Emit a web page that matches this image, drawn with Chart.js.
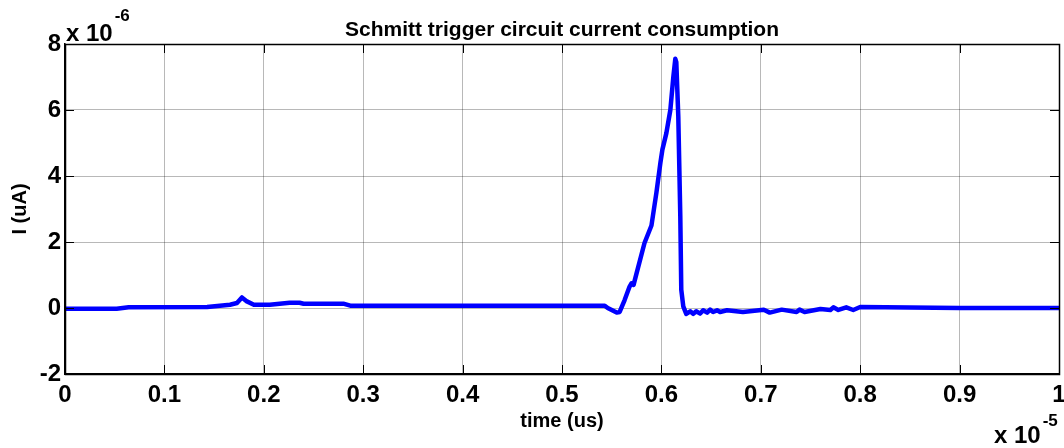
<!DOCTYPE html>
<html>
<head>
<meta charset="utf-8">
<script src="https://cdn.jsdelivr.net/npm/chart.js@4/dist/chart.umd.min.js"></script>
<style>
  html, body { margin: 0; padding: 0; background: #fff; }
  #wrap { width: 1064px; height: 448px; }
</style>
</head>
<body>
<div id="wrap"><canvas id="currentChart" width="1064" height="448"></canvas></div>
<script>
// time in units of 1e-5 (as on the axis), current in units of 1e-6
const timeVals = [0, 0.052, 0.064, 0.143, 0.166, 0.173, 0.178, 0.183, 0.19, 0.206, 0.216, 0.226, 0.236, 0.24, 0.28, 0.287,
  0.337, 0.45, 0.543, 0.546, 0.555, 0.558, 0.563, 0.568, 0.570, 0.572, 0.575, 0.583, 0.590, 0.595, 0.599, 0.601,
  0.605, 0.609, 0.612, 0.614, 0.615, 0.617, 0.619, 0.620, 0.622, 0.625, 0.629, 0.632, 0.635, 0.639, 0.642, 0.646,
  0.649, 0.652, 0.656, 0.659, 0.666, 0.682, 0.703, 0.709, 0.721, 0.736, 0.739, 0.744, 0.760, 0.770, 0.773, 0.778,
  0.786, 0.793, 0.800, 0.9, 1.0];
const currentVals = [-0.02, -0.02, 0.02, 0.03, 0.1, 0.15, 0.32, 0.2, 0.1, 0.1, 0.13, 0.16, 0.16, 0.13, 0.13, 0.07,
  0.07, 0.07, 0.07, 0.0, -0.14, -0.12, 0.24, 0.65, 0.75, 0.7, 1.05, 1.97, 2.5, 3.5, 4.4, 4.8,
  5.3, 6.0, 7.0, 7.55, 7.45, 5.8, 2.8, 0.55, 0.05, -0.18, -0.1, -0.18, -0.1, -0.17, -0.07, -0.14,
  -0.05, -0.12, -0.07, -0.12, -0.07, -0.12, -0.05, -0.14, -0.05, -0.12, -0.05, -0.12, -0.03, -0.06, 0.02, -0.06,
  0.02, -0.06, 0.03, 0.0, 0.0];

const xTicks = [0, 0.1, 0.2, 0.3, 0.4, 0.5, 0.6, 0.7, 0.8, 0.9, 1];
const xTickLabels = ['0', '0.1', '0.2', '0.3', '0.4', '0.5', '0.6', '0.7', '0.8', '0.9', '1'];
const yTicks = [-2, 0, 2, 4, 6, 8];
const yTickLabels = ['-2', '0', '2', '4', '6', '8'];

const chartTitle = 'Schmitt trigger circuit current consumption';
const xTitle = 'time (us)';
const yTitle = 'I (uA)';
const xExponent = '-5';
const yExponent = '-6';

const FONT = '"Liberation Sans", Arial, Helvetica, sans-serif';

// title over the axes, box, inner tick marks and the "x 10^n" multipliers, like matlab draws them
const matlabBox = {
  id: 'matlabBox',
  afterDraw(chart) {
    const ctx = chart.ctx;
    const a = chart.chartArea;
    const xs = chart.scales.x, ys = chart.scales.y;
    ctx.save();
    ctx.strokeStyle = '#000';
    ctx.lineWidth = 1;
    ctx.beginPath();
    xTicks.forEach(v => {
      const px = Math.round(xs.getPixelForValue(v)) + 0.5;
      ctx.moveTo(px, a.bottom); ctx.lineTo(px, a.bottom - 9);
      ctx.moveTo(px, a.top); ctx.lineTo(px, a.top + 9);
    });
    yTicks.forEach(v => {
      const py = Math.round(ys.getPixelForValue(v)) + 0.5;
      ctx.moveTo(a.left, py); ctx.lineTo(a.left + 9, py);
      ctx.moveTo(a.right, py); ctx.lineTo(a.right - 9, py);
    });
    ctx.stroke();
    ctx.lineWidth = 1.5;
    ctx.strokeRect(Math.round(a.left) + 0.5, Math.round(a.top) + 0.5, Math.round(a.right - a.left), Math.round(a.bottom - a.top));

    ctx.fillStyle = '#000';
    ctx.textBaseline = 'alphabetic';
    ctx.textAlign = 'center';
    ctx.font = 'bold 21px ' + FONT;
    ctx.fillText(chartTitle, (a.left + a.right) / 2, 36);

    ctx.textAlign = 'left';
    ctx.font = 'bold 24px ' + FONT;
    ctx.fillText('x 10', a.left + 1, a.top - 3);
    const w1 = ctx.measureText('x 10').width;
    ctx.font = 'bold 17px ' + FONT;
    ctx.fillText(yExponent, a.left + 3 + w1, a.top - 23);

    ctx.font = 'bold 24px ' + FONT;
    ctx.fillText('x 10', 994, 443);
    const w2 = ctx.measureText('x 10').width;
    ctx.font = 'bold 17px ' + FONT;
    ctx.fillText(xExponent, 996 + w2, 426);
    ctx.restore();
  }
};

new Chart(document.getElementById('currentChart'), {
  type: 'line',
  data: {
    datasets: [{
      label: 'I',
      data: timeVals.map((t, i) => ({ x: t, y: currentVals[i] })),
      borderColor: '#0000ff',
      backgroundColor: '#0000ff',
      borderWidth: 4.5,
      pointRadius: 0,
      tension: 0,
      borderJoinStyle: 'round',
      borderCapStyle: 'round'
    }]
  },
  options: {
    responsive: false,
    animation: false,
    layout: { padding: { left: 0, right: 5, top: 44, bottom: 0 } },
    plugins: {
      legend: { display: false },
      tooltip: { enabled: false },
      title: { display: false }
    },
    scales: {
      x: {
        type: 'linear',
        min: 0,
        max: 1,
        afterBuildTicks: s => { s.ticks = xTicks.map(v => ({ value: v })); },
        afterFit: s => { s.height = 74; s.paddingLeft = 0; s.paddingRight = 0; },
        ticks: {
          color: '#000',
          font: { family: FONT, size: 24, weight: 'bold' },
          padding: 7,
          maxRotation: 0,
          callback: (v) => xTickLabels[xTicks.indexOf(v)]
        },
        grid: { color: 'rgba(0,0,0,0.28)', lineWidth: 1, drawTicks: false },
        border: { color: '#000', width: 1.5 },
        title: {
          display: true,
          text: xTitle,
          color: '#000',
          font: { family: FONT, size: 20, weight: 'bold' },
          padding: { top: 0, bottom: 15 }
        }
      },
      y: {
        type: 'linear',
        min: -2,
        max: 8,
        afterBuildTicks: s => { s.ticks = yTicks.map(v => ({ value: v })); },
        afterFit: s => { s.width = 65; s.paddingTop = 0; s.paddingBottom = 0; },
        ticks: {
          color: '#000',
          font: { family: FONT, size: 24, weight: 'bold' },
          padding: 4,
          callback: (v) => yTickLabels[yTicks.indexOf(v)]
        },
        grid: { color: 'rgba(0,0,0,0.28)', lineWidth: 1, drawTicks: false },
        border: { color: '#000', width: 1.5 },
        title: {
          display: true,
          text: yTitle,
          color: '#000',
          font: { family: FONT, size: 20, weight: 'bold' },
          padding: { top: 8, bottom: 0 }
        }
      }
    }
  },
  plugins: [matlabBox]
});
</script>
</body>
</html>
